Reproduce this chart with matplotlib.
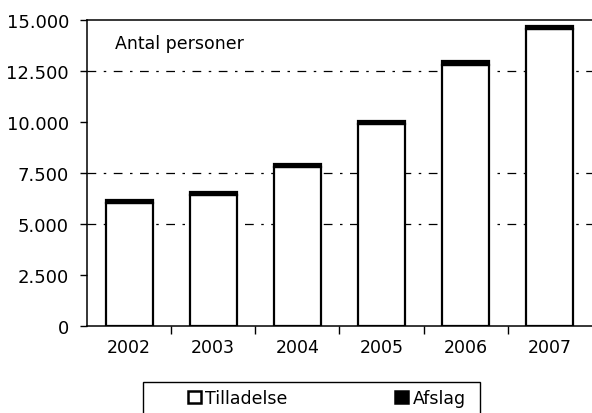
import matplotlib.pyplot as plt
from matplotlib.patches import Patch, Rectangle

years = ["2002", "2003", "2004", "2005", "2006", "2007"]
tilladelse = [6050, 6430, 7800, 9900, 12800, 14550]
afslag = [150, 150, 150, 170, 180, 150]
y_ticks = [0, 2500, 5000, 7500, 10000, 12500, 15000]
y_labels = ["0", "2.500", "5.000", "7.500", "10.000", "12.500", "15.000"]
grid_levels = [5000, 7500, 12500]

plt.rcParams["font.family"] = ["DejaVu Sans"]

W, H = 592, 414
fig = plt.figure(figsize=(W / 100, H / 100), dpi=100)
ax = fig.add_axes([87 / W, 1 - 327 / H, 1 - 87 / W, 306 / H])

x = list(range(len(years)))
ax.bar(x, tilladelse, width=0.56, color="white", edgecolor="black",
       linewidth=1.6, zorder=3)
ax.bar(x, afslag, bottom=tilladelse, width=0.56, color="black",
       edgecolor="black", linewidth=1.6, zorder=3)

for lvl in grid_levels:
    ax.axhline(lvl, color="black", linewidth=0.9,
               linestyle=(0, (7, 6, 2, 6)), zorder=1)

ax.set_xlim(-0.5, len(years) - 0.5)
ax.set_ylim(0, 15000)
ax.set_yticks(y_ticks)
ax.set_yticklabels(y_labels)
ax.set_xticks([i + 0.5 for i in range(len(years) - 1)])
ax.set_xticklabels([])
ax.set_xticks(x, minor=True)
ax.set_xticklabels(years, minor=True)
ax.tick_params(axis="x", which="major", direction="out", length=6, width=1)
ax.tick_params(axis="x", which="minor", length=0, pad=9, labelsize=12.5)
ax.tick_params(axis="y", direction="out", length=5, width=1, pad=8,
               labelsize=13)

ax.spines["right"].set_visible(False)
for side in ["left", "bottom", "top"]:
    ax.spines[side].set_linewidth(1.1)

ax.text(0.055, 0.925, "Antal personer", transform=ax.transAxes,
        fontsize=12.5, va="center", ha="left")

# legend box, runs off the bottom edge like the scan
fig.patches.append(Rectangle((143 / W, -0.05), (480 - 143) / W,
                             0.05 + 1 - 383 / H, transform=fig.transFigure,
                             facecolor="white", edgecolor="black",
                             linewidth=1.0))

handles = [
    Patch(facecolor="white", edgecolor="black", linewidth=1.8, label="Tilladelse"),
    Patch(facecolor="black", edgecolor="black", linewidth=1.8, label="Afslag"),
]
leg = fig.legend(handles=handles, ncol=2, loc="center left",
                 bbox_to_anchor=(188 / W, 1 - 399 / H),
                 frameon=False, handlelength=0.75, handleheight=0.75,
                 handletextpad=0.25, columnspacing=6.2,
                 fontsize=12.5, borderpad=0, borderaxespad=0)

fig.savefig("out.png", dpi=100)
